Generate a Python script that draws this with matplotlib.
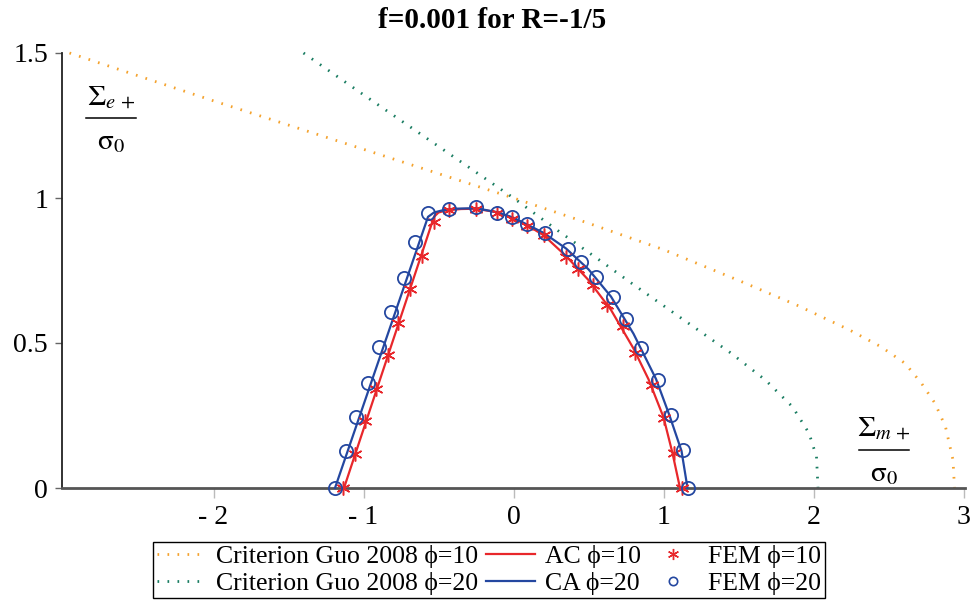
import matplotlib
matplotlib.use("Agg")
import matplotlib.pyplot as plt
from matplotlib.lines import Line2D

plt.rcParams['font.family'] = ['Liberation Serif', 'DejaVu Serif']
plt.rcParams['mathtext.fontset'] = 'stix'

# Criterion Guo 2008 curves
guo10_x = [-2.96, -2.0, -1.0, 0.0, 0.5, 1.0, 1.5, 1.9, 2.24, 2.45, 2.61, 2.72, 2.81, 2.88, 2.93, 2.94]
guo10_y = [1.5, 1.335, 1.168, 1.0, 0.913, 0.822, 0.716, 0.628, 0.545, 0.487, 0.430, 0.361, 0.292, 0.211, 0.097, 0.0]
guo20_x = [-1.40, -1.0, -0.5, 0.0, 0.3, 0.57, 0.79, 1.01, 1.23, 1.45, 1.68, 1.86, 1.97, 2.02, 2.03]
guo20_y = [1.5, 1.356, 1.178, 1.0, 0.886, 0.787, 0.705, 0.625, 0.545, 0.465, 0.372, 0.28, 0.189, 0.108, 0.0]

# Analytical curves
ac10_x = [-1.13, -0.53, -0.50, -0.45, -0.35, -0.25, -0.10, 0.0, 0.1, 0.2, 0.35, 0.5, 0.65, 0.8, 0.9, 1.0, 1.06, 1.11]
ac10_y = [0.0, 0.935, 0.950, 0.957, 0.962, 0.963, 0.950, 0.930, 0.903, 0.872, 0.800, 0.717, 0.614, 0.481, 0.375, 0.244, 0.12, 0.0]
ca20_x = [-1.19, -0.57, -0.53, -0.47, -0.40, -0.25, -0.10, 0.0, 0.1, 0.2, 0.35, 0.5, 0.65, 0.8, 0.95, 1.04, 1.12, 1.16]
ca20_y = [0.0, 0.935, 0.950, 0.958, 0.963, 0.965, 0.950, 0.932, 0.906, 0.880, 0.826, 0.754, 0.660, 0.532, 0.376, 0.250, 0.128, 0.0]

# FEM points
fem10_x = [-1.14, -1.06, -0.99, -0.92, -0.84, -0.77, -0.69, -0.61, -0.53, -0.43, -0.25, -0.11, -0.01, 0.09, 0.20, 0.35, 0.43, 0.53, 0.62, 0.73, 0.81, 0.92, 1.00, 1.07, 1.12]
fem10_y = [0.0, 0.117, 0.232, 0.341, 0.459, 0.569, 0.686, 0.801, 0.917, 0.959, 0.962, 0.948, 0.928, 0.903, 0.872, 0.798, 0.755, 0.700, 0.631, 0.559, 0.466, 0.355, 0.241, 0.121, 0.0]
fem20_x = [-1.19, -1.12, -1.05, -0.97, -0.90, -0.82, -0.73, -0.66, -0.57, -0.43, -0.25, -0.11, -0.01, 0.09, 0.21, 0.36, 0.45, 0.55, 0.66, 0.75, 0.85, 0.96, 1.05, 1.13, 1.16]
fem20_y = [0.0, 0.128, 0.245, 0.362, 0.486, 0.608, 0.724, 0.849, 0.948, 0.962, 0.969, 0.949, 0.934, 0.910, 0.880, 0.824, 0.780, 0.728, 0.660, 0.583, 0.483, 0.372, 0.252, 0.131, 0.0]

xticks = [-2, -1, 0, 1, 2, 3]
xtick_labels = ['- 2', '- 1', '0', '1', '2', '3']
yticks = [0, 0.5, 1, 1.5]
ytick_labels = ['0', '0.5', '1', '1.5']

c_or = '#F4A22D'
c_gr = '#1A7D62'
c_red = '#E8272B'
c_blue = '#2447A0'

W, H = 975, 602
fig = plt.figure(figsize=(W / 100, H / 100), dpi=100)
ax = fig.add_axes([62 / W, 1 - 488 / H, (965 - 62) / W, (488 - 53) / H])

ax.plot(guo10_x, guo10_y, color=c_or, lw=2.0, linestyle=(0, (0.6, 3.0)), clip_on=False, zorder=2)
ax.plot(guo20_x, guo20_y, color=c_gr, lw=2.0, linestyle=(0, (0.6, 3.0)), clip_on=False, zorder=2)
ax.plot(ac10_x, ac10_y, color=c_red, lw=1.6, clip_on=False, zorder=3)
ax.plot(ca20_x, ca20_y, color=c_blue, lw=1.6, clip_on=False, zorder=3)
ax.plot(fem10_x, fem10_y, linestyle='none', marker=(6, 2, 0), ms=10, mec=c_red, mew=1.1, clip_on=False, zorder=4)
ax.plot(fem20_x, fem20_y, linestyle='none', marker='o', ms=9.5, mfc='none', mec=c_blue, mew=1.3, clip_on=False, zorder=5)

ax.set_xlim(-3.01, 3.01)
ax.set_ylim(0, 1.5)
ax.set_xticks(xticks)
ax.set_xticklabels(xtick_labels)
ax.set_yticks(yticks)
ax.set_yticklabels(ytick_labels)
for s in ['top', 'right']:
    ax.spines[s].set_visible(False)
ax.spines['left'].set_color('#222222')
ax.spines['left'].set_linewidth(1.3)
ax.spines['bottom'].set_color('#555555')
ax.spines['bottom'].set_linewidth(2.0)
ax.tick_params(axis='x', length=7, width=1, color='#bbbbbb', labelsize=20, pad=5)
ax.tick_params(axis='y', length=5, width=1, color='#666666', labelsize=20, pad=5)

# Axis labels as fractions
def frac(xc, ytop, num, line_y, half):
    fig.text(xc / W, 1 - ytop / H, num, ha='center', va='center', fontsize=21)
    fig.add_artist(Line2D([(xc - half) / W, (xc + half) / W], [1 - line_y / H, 1 - line_y / H],
                          color='black', lw=1.1))
    fig.text(xc / W, 1 - (line_y + 24) / H, r'$\mathrm{σ}_0$', ha='center', va='center', fontsize=21)

frac(111, 97, r'$\Sigma_{e\,+}$', 118, 25)
frac(884, 428, r'$\Sigma_{m\,+}$', 450, 25)

fig.text(492 / W, 1 - 21 / H, 'f=0.001 for R=-1/5', ha='center', va='center',
         fontsize=21, fontweight='bold')

handles = [
    Line2D([], [], color=c_or, lw=2.0, linestyle=(0, (0.6, 3.0))),
    Line2D([], [], color=c_gr, lw=2.0, linestyle=(0, (0.6, 3.0))),
    Line2D([], [], color=c_red, lw=1.6),
    Line2D([], [], color=c_blue, lw=1.6),
    Line2D([], [], linestyle='none', marker=(6, 2, 0), ms=8, mec=c_red, mew=1.0),
    Line2D([], [], linestyle='none', marker='o', ms=6, mfc='none', mec=c_blue, mew=1.2),
]
labels = ['Criterion Guo 2008 ϕ=10', 'Criterion Guo 2008 ϕ=20', 'AC ϕ=10', 'CA ϕ=20', 'FEM ϕ=10', 'FEM ϕ=20']
leg = fig.legend(handles, labels, ncol=3, loc='center', bbox_to_anchor=(489 / W, 1 - 570 / H),
                 fontsize=18.5, frameon=True, fancybox=False, edgecolor='black', framealpha=1,
                 handlelength=1.9, handletextpad=0.4, columnspacing=0.3,
                 labelspacing=0.12, borderpad=0.15, borderaxespad=0)
leg.get_frame().set_linewidth(1.0)

fig.savefig('out.png', dpi=100)
